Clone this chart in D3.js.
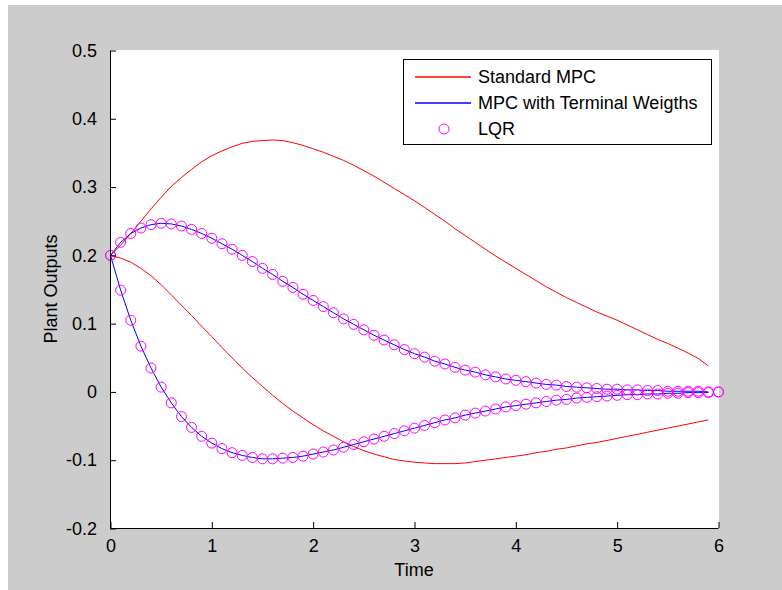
<!DOCTYPE html>
<html>
<head>
<meta charset="utf-8">
<script src="https://cdn.jsdelivr.net/npm/d3@7"></script>
<style>
  html, body { margin: 0; padding: 0; background: #ffffff; }
  svg text { font-family: "Liberation Sans", Arial, sans-serif; fill: #000; }
</style>
</head>
<body>
<svg id="chart" width="782" height="590"></svg>
<script>
// ---------------- DATA ----------------
const timeLQR = d3.range(0, 61).map(i => +(i * 0.1).toFixed(1));   // 0 .. 6.0 step 0.1
const timeMPC = d3.range(0, 60).map(i => +(i * 0.1).toFixed(1));   // 0 .. 5.9 step 0.1

const lqrOut1 = [0.200,0.219,0.232,0.240,0.245,0.247,0.246,0.243,0.238,0.232,
                 0.225,0.217,0.209,0.200,0.191,0.181,0.172,0.162,0.153,0.143,
                 0.134,0.125,0.116,0.107,0.099,0.091,0.083,0.076,0.069,0.062,
                 0.056,0.051,0.045,0.041,0.036,0.032,0.029,0.025,0.022,0.019,
                 0.017,0.015,0.013,0.011,0.010,0.008,0.007,0.006,0.005,0.004,
                 0.004,0.003,0.003,0.002,0.002,0.001,0.001,0.001,0.001,0.000,0.000];
const lqrOut2 = [0.200,0.149,0.105,0.067,0.035,0.007,-0.016,-0.036,-0.052,-0.065,
                 -0.075,-0.083,-0.089,-0.093,-0.096,-0.098,-0.098,-0.097,-0.096,-0.094,
                 -0.091,-0.088,-0.085,-0.081,-0.077,-0.073,-0.069,-0.065,-0.061,-0.057,
                 -0.053,-0.049,-0.045,-0.041,-0.038,-0.034,-0.031,-0.028,-0.025,-0.022,
                 -0.020,-0.018,-0.016,-0.014,-0.012,-0.011,-0.009,-0.008,-0.007,-0.006,
                 -0.005,-0.004,-0.004,-0.003,-0.003,-0.002,-0.002,-0.001,-0.001,-0.001,0.000];

// MPC with terminal weights coincides with LQR (plotted up to t = 5.9)
const mpcTwOut1 = lqrOut1.slice(0, 60);
const mpcTwOut2 = lqrOut2.slice(0, 60);

const stdMpcOut1 = [0.200,0.215,0.232,0.250,0.268,0.285,0.301,0.314,0.326,0.337,
                    0.346,0.353,0.359,0.364,0.367,0.368,0.369,0.368,0.365,0.361,
                    0.356,0.351,0.345,0.339,0.332,0.324,0.316,0.307,0.298,0.289,
                    0.280,0.270,0.260,0.250,0.239,0.229,0.219,0.209,0.199,0.190,
                    0.181,0.172,0.163,0.154,0.146,0.138,0.131,0.124,0.117,0.111,
                    0.105,0.098,0.091,0.084,0.077,0.071,0.064,0.057,0.049,0.038];
const stdMpcOut2 = [0.200,0.196,0.190,0.181,0.170,0.157,0.142,0.127,0.112,0.096,
                    0.081,0.065,0.050,0.035,0.021,0.008,-0.005,-0.017,-0.028,-0.038,
                    -0.048,-0.057,-0.065,-0.073,-0.080,-0.086,-0.091,-0.095,-0.099,-0.101,
                    -0.103,-0.104,-0.105,-0.105,-0.105,-0.104,-0.102,-0.100,-0.098,-0.096,
                    -0.094,-0.092,-0.089,-0.087,-0.084,-0.082,-0.079,-0.076,-0.074,-0.071,
                    -0.068,-0.065,-0.062,-0.059,-0.056,-0.053,-0.050,-0.047,-0.044,-0.041];

const xTicks = [0, 1, 2, 3, 4, 5, 6];
const yTicks = [-0.2, -0.1, 0, 0.1, 0.2, 0.3, 0.4, 0.5];
const yTickLabels = ["-0.2", "-0.1", "0", "0.1", "0.2", "0.3", "0.4", "0.5"];
const legendLabels = ["Standard MPC", "MPC with Terminal Weigths", "LQR"];
const xLabel = "Time";
const yLabel = "Plant Outputs";

// ---------------- DRAW ----------------
const svg = d3.select("#chart");
const W = 782, H = 590;

// figure background
svg.append("rect").attr("x", 8).attr("y", 5).attr("width", W - 8).attr("height", H - 5)
   .attr("fill", "#cccccc");

const x = d3.scaleLinear().domain([0, 6]).range([110.5, 718.5]);
const y = d3.scaleLinear().domain([-0.2, 0.5]).range([528.5, 50.5]);

// plot area
svg.append("rect").attr("x", 110).attr("y", 50).attr("width", 609).attr("height", 478)
   .attr("fill", "#ffffff");

const line = d3.line().x(d => x(d[0])).y(d => y(d[1]));
const zip = (t, v) => t.map((ti, i) => [ti, v[i]]);

const g = svg.append("g");
// Standard MPC (red)
[stdMpcOut1, stdMpcOut2].forEach(s => {
  g.append("path").datum(zip(timeMPC, s)).attr("d", line)
   .attr("fill", "none").attr("stroke", "#ff0000").attr("stroke-width", 1);
});
// MPC with terminal weights (blue)
[mpcTwOut1, mpcTwOut2].forEach(s => {
  g.append("path").datum(zip(timeMPC, s)).attr("d", line)
   .attr("fill", "none").attr("stroke", "#0000ff").attr("stroke-width", 1);
});
// LQR (magenta circles)
[lqrOut1, lqrOut2].forEach(s => {
  g.selectAll(null).data(zip(timeLQR, s)).enter().append("circle")
   .attr("cx", d => x(d[0])).attr("cy", d => y(d[1])).attr("r", 5)
   .attr("fill", "none").attr("stroke", "#ff00ff").attr("stroke-width", 1);
});

// axes (ticks pointing inward)
const xAxis = d3.axisBottom(x).tickValues(xTicks).tickFormat(d3.format("d"))
  .tickSizeInner(-6).tickSizeOuter(0).tickPadding(11);
const yAxis = d3.axisLeft(y).tickValues(yTicks)
  .tickFormat((d, i) => yTickLabels[i])
  .tickSizeInner(-6).tickSizeOuter(0).tickPadding(13);

const gx = svg.append("g").attr("transform", "translate(0,528)").call(xAxis);
const gy = svg.append("g").attr("transform", "translate(110,0)").call(yAxis);
[gx, gy].forEach(a => {
  a.select(".domain").attr("stroke", "#000").attr("stroke-width", 1);
  a.selectAll(".tick line").attr("stroke", "#000");
  a.selectAll(".tick text").style("font-size", "18px").attr("fill", "#000")
   .style("font-family", "'Liberation Sans', Arial, sans-serif");
});
gx.select(".domain").attr("d", "M110.5,0.5H718.5");
gy.select(".domain").attr("d", "M0.5,50.5V528.5");

// axis labels
svg.append("text").attr("x", 414).attr("y", 576).attr("text-anchor", "middle")
   .style("font-size", "18px").text(xLabel);
svg.append("text").attr("transform", "translate(57,289) rotate(-90)")
   .attr("text-anchor", "middle").style("font-size", "18px").text(yLabel);

// legend
const lg = svg.append("g");
lg.append("rect").attr("x", 403.5).attr("y", 59.5).attr("width", 308).attr("height", 85)
  .attr("fill", "#ffffff").attr("stroke", "#000").attr("stroke-width", 1);
const rowsY = [77, 103, 129];
const colors = ["#ff0000", "#0000ff", "#ff00ff"];
legendLabels.forEach((lab, i) => {
  if (i < 2) {
    lg.append("line").attr("x1", 415).attr("x2", 471).attr("y1", rowsY[i]).attr("y2", rowsY[i])
      .attr("stroke", colors[i]).attr("stroke-width", 1.4);
  } else {
    lg.append("circle").attr("cx", 444).attr("cy", rowsY[i]).attr("r", 5)
      .attr("fill", "none").attr("stroke", colors[i]).attr("stroke-width", 1);
  }
  lg.append("text").attr("x", 478).attr("y", rowsY[i]).attr("dy", "0.36em")
    .style("font-size", "18px").text(lab);
});
</script>
</body>
</html>
